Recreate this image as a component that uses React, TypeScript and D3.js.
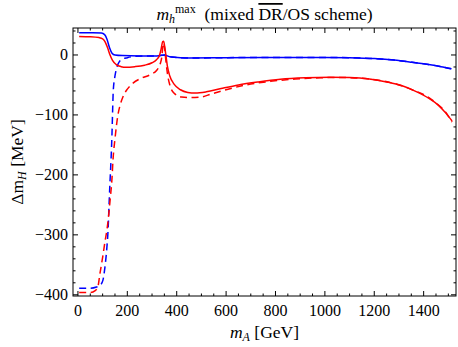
import { useEffect, useRef } from "react";
import * as d3 from "d3";

// [m_A in GeV, Delta m_H in MeV]
const blueSolid: [number, number][] = [
  [5, 37], [60, 37], [95, 36.5], [108, 34], [118, 26], [128, 12], [138, 3], [150, 0],
  [180, -1], [250, -1.5], [320, -1.5], [340, -0.5], [352, 0], [362, -1.5], [380, -3.5],
  [450, -5], [600, -4.5], [800, -4], [1000, -4], [1100, -4.5], [1200, -6], [1280, -8.5],
  [1350, -12], [1420, -16], [1470, -19.5], [1512, -23],
];

const blueDashed: [number, number][] = [
  [5, -389], [50, -389], [75, -387], [90, -384], [101, -376], [109, -355], [117, -322],
  [122, -292], [126, -250], [130, -210], [134, -175], [138, -130], [140, -100], [143, -60],
  [150, -35], [158, -20], [168, -11], [180, -7], [200, -4.5], [225, -2.5], [260, -1.5],
  [320, -1.5], [340, -0.5], [352, 0], [362, -1.5], [380, -3.5], [450, -5], [600, -4.5],
  [800, -4], [1000, -4], [1100, -4.5], [1200, -6], [1280, -8.5], [1350, -12], [1420, -16],
  [1470, -19.5], [1512, -23],
];

const redSolid: [number, number][] = [
  [5, 31], [50, 30.5], [85, 29], [100, 27], [110, 22], [120, 12], [130, 0], [140, -9],
  [155, -16], [175, -19.5], [195, -20.5], [230, -19.5], [270, -17], [300, -13], [318, -8],
  [330, -1], [337, 10], [343, 22], [347, 23], [351, 15], [356, 0], [362, -18], [372, -35],
  [390, -49], [415, -58], [445, -62.5], [475, -63.5], [520, -61.5], [580, -56], [650, -50],
  [730, -45], [820, -40.5], [920, -38], [1020, -37], [1100, -37.5], [1180, -40], [1250, -45],
  [1310, -51], [1370, -61], [1420, -72], [1460, -84], [1490, -97], [1515, -110],
];

const redDashed: [number, number][] = [
  [5, -396], [50, -396], [70, -393], [80, -388], [89, -365], [101, -335], [110, -310],
  [118, -290], [125, -265], [130, -243], [138, -205], [142, -175], [150, -140], [162, -100],
  [172, -82], [182, -70], [200, -57], [223, -47], [255, -39], [292, -33], [320, -25],
  [333, -15], [340, -2], [344, 15], [347, 20], [350, 14], [355, -5], [362, -30], [372, -50],
  [390, -64], [420, -70], [460, -71], [500, -70], [540, -65], [600, -58], [680, -50],
  [780, -44], [880, -40], [980, -38], [1050, -37.5], [1150, -39], [1230, -43], [1300, -50],
  [1360, -59], [1410, -68], [1450, -80], [1490, -96], [1515, -112],
];

const xTicks = [0, 200, 400, 600, 800, 1000, 1200, 1400];
const yTicks = [-400, -300, -200, -100, 0];

function App() {
  const ref = useRef<SVGSVGElement>(null);

  useEffect(() => {
    const root = d3.select(ref.current);
    root.selectAll("*").remove();

    const width = 458, height = 347;
    const left = 73, right = 456, top = 28, bottom = 296;

    const x = d3.scaleLinear().domain([-20, 1531]).range([left, right]);
    const y = d3.scaleLinear().domain([-402, 45]).range([bottom, top]);

    const font = "'Liberation Serif', 'Times New Roman', serif";

    root.append("rect").attr("width", width).attr("height", height).attr("fill", "#fff");

    root.append("clipPath").attr("id", "plotclip")
      .append("rect").attr("x", left).attr("y", top)
      .attr("width", right - left).attr("height", bottom - top);

    const line = d3.line<[number, number]>()
      .x(d => x(d[0]))
      .y(d => y(d[1]))
      .curve(d3.curveMonotoneX);

    const curves = root.append("g").attr("clip-path", "url(#plotclip)");
    const series = [
      { data: blueDashed, color: "#0000ff", dash: "7,4.5" },
      { data: blueSolid, color: "#0000ff", dash: null },
      { data: redDashed, color: "#ff0000", dash: "7,4.5" },
      { data: redSolid, color: "#ff0000", dash: null },
    ];
    series.forEach(s => {
      curves.append("path")
        .attr("d", line(s.data))
        .attr("fill", "none")
        .attr("stroke", s.color)
        .attr("stroke-width", 1.5)
        .attr("stroke-dasharray", s.dash);
    });

    // frame
    root.append("rect")
      .attr("x", left).attr("y", top)
      .attr("width", right - left).attr("height", bottom - top)
      .attr("fill", "none").attr("stroke", "#000").attr("stroke-width", 1);

    const ticks = root.append("g").attr("stroke", "#000").attr("stroke-width", 1);

    // x ticks (major 200, minor 50), bottom and top, pointing in
    d3.range(0, 1501, 50).forEach(v => {
      const major = v % 200 === 0;
      const len = major ? 5 : 2.5;
      const px = x(v);
      ticks.append("line").attr("x1", px).attr("x2", px).attr("y1", bottom).attr("y2", bottom - len);
      ticks.append("line").attr("x1", px).attr("x2", px).attr("y1", top).attr("y2", top + len);
    });

    // y ticks (major 100, minor 20), left and right
    d3.range(-400, 41, 20).forEach(v => {
      const major = v % 100 === 0;
      const len = major ? 5 : 2.5;
      const py = y(v);
      ticks.append("line").attr("x1", left).attr("x2", left + len).attr("y1", py).attr("y2", py);
      ticks.append("line").attr("x1", right).attr("x2", right - len).attr("y1", py).attr("y2", py);
    });

    // tick labels
    root.append("g").selectAll("text")
      .data(xTicks)
      .enter()
      .append("text")
      .attr("x", d => x(d))
      .attr("y", bottom + 20)
      .attr("text-anchor", "middle")
      .style("font-family", font)
      .style("font-size", "16px")
      .text(d => d);

    root.append("g").selectAll("text")
      .data(yTicks)
      .enter()
      .append("text")
      .attr("x", left - 5)
      .attr("y", d => y(d) + 5)
      .attr("text-anchor", "end")
      .style("font-family", font)
      .style("font-size", "16px")
      .text(d => (d < 0 ? "\u2212" + Math.abs(d) : String(d)));

    // title
    const title = root.append("text")
      .attr("x", (left + right) / 2)
      .attr("y", 20)
      .attr("text-anchor", "middle")
      .style("font-family", font)
      .style("font-size", "17.5px");
    title.append("tspan").style("font-style", "italic").text("m");
    title.append("tspan").style("font-style", "italic").style("font-size", "12px").attr("dy", 3).text("h");
    title.append("tspan").style("font-size", "12px").attr("dy", -10).text("max");
    title.append("tspan").attr("dy", 7).text("\u00a0\u00a0(mixed ");
    title.append("tspan").style("text-decoration", "overline").text("DR");
    title.append("tspan").text("/OS scheme)");

    // x label
    const xl = root.append("text")
      .attr("x", (left + right) / 2)
      .attr("y", 338)
      .attr("text-anchor", "middle")
      .style("font-family", font)
      .style("font-size", "17.5px");
    xl.append("tspan").style("font-style", "italic").text("m");
    xl.append("tspan").style("font-style", "italic").style("font-size", "12px").attr("dy", 3).text("A");
    xl.append("tspan").attr("dy", -3).text(" [GeV]");

    // y label
    const yl = root.append("text")
      .attr("transform", `translate(23, ${(top + bottom) / 2}) rotate(-90)`)
      .attr("text-anchor", "middle")
      .style("font-family", font)
      .style("font-size", "17.5px");
    yl.append("tspan").text("\u0394m");
    yl.append("tspan").style("font-style", "italic").style("font-size", "12px").attr("dy", 3).text("H");
    yl.append("tspan").attr("dy", -3).text(" [MeV]");
  }, []);

  return (
    <svg
      ref={ref}
      width={458}
      height={347}
      style={{ position: "absolute", left: 0, top: 0 }}
    />
  );
}

export default App;
